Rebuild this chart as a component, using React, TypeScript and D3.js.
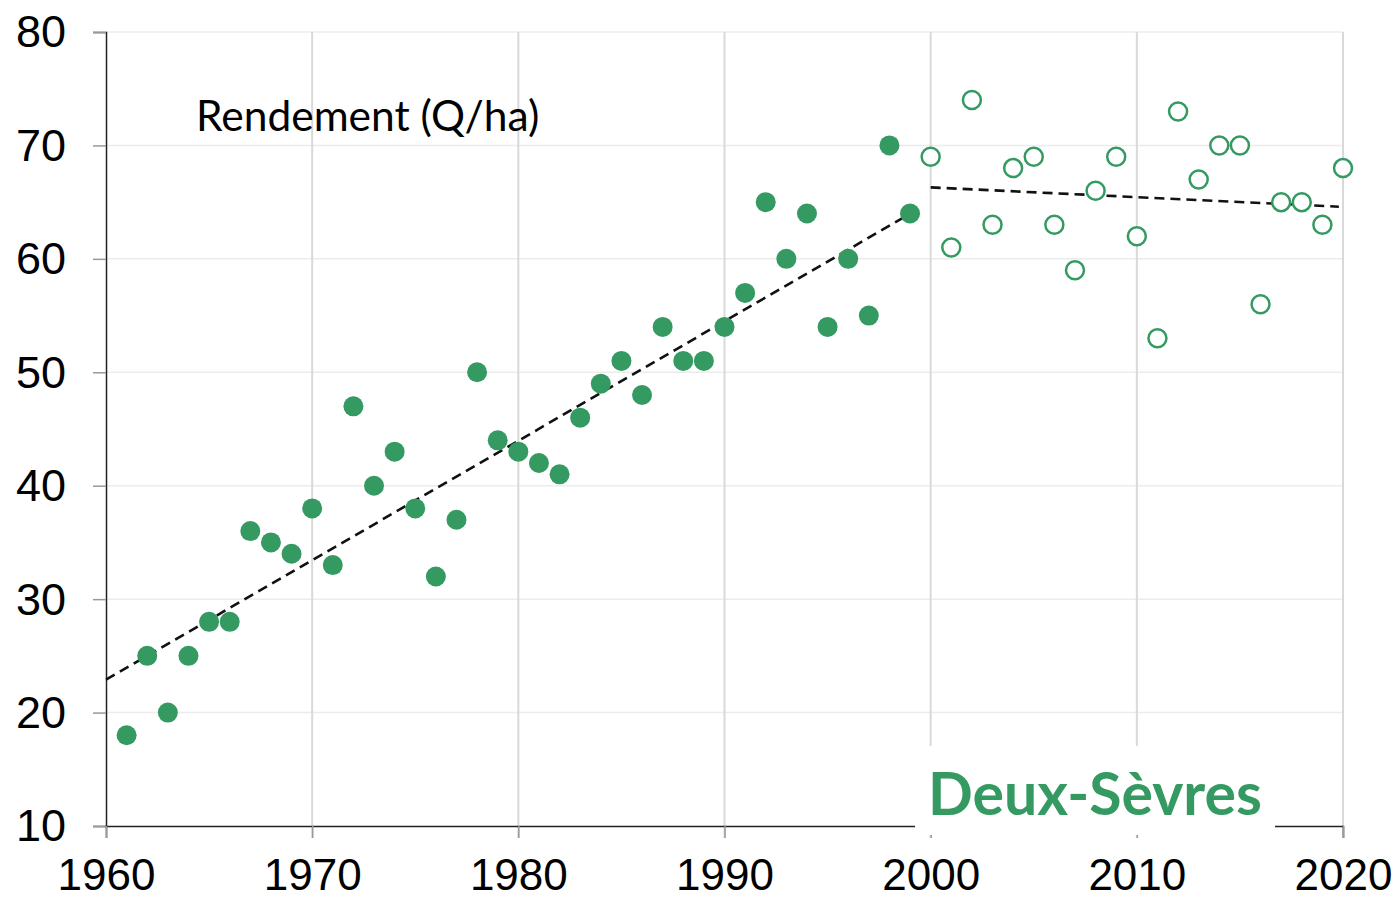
import * as d3 from "d3";
import { useEffect, useRef } from "react";

const W = 1399;
const H = 899;
const margin = { top: 32, right: 56, bottom: 73, left: 106 };

// rendement (Q/ha), 1961-1999 (points pleins)
const years1 = d3.range(1961, 2000);
const yield1 = [
	18, 25, 20, 25, 28, 28, 36, 35, 34, 38,
	33, 47, 40, 43, 38, 32, 37, 50, 44, 43,
	42, 41, 46, 49, 51, 48, 54, 51, 51, 54,
	57, 65, 60, 64, 54, 60, 55, 70, 64
];

// 2000-2020 (points creux)
const years2 = d3.range(2000, 2021);
const yield2 = [
	69, 61, 74, 63, 68, 69, 63, 59, 66, 69,
	62, 53, 73, 67, 70, 70, 56, 65, 65, 63, 68
];

// tendances (extrémités)
const trend1 = [[1960, 22.9], [1999.5, 64.5]];
const trend2 = [[2000, 66.3], [2019.8, 64.6]];

const xTicks = [1960, 1970, 1980, 1990, 2000, 2010, 2020];
const yTicks = [10, 20, 30, 40, 50, 60, 70, 80];

const green = "#349a62";

export default function App() {
	const ref = useRef(null);

	useEffect(() => {
		const svg = d3.select(ref.current);
		svg.selectAll("*").remove();

		const x = d3.scaleLinear().domain([1960, 2020]).range([margin.left, W - margin.right]);
		const y = d3.scaleLinear().domain([10, 80]).range([H - margin.bottom, margin.top]);

		// grille
		svg.append("g")
			.selectAll("line")
			.data(yTicks.slice(1))
			.join("line")
			.attr("x1", margin.left)
			.attr("x2", x(2020))
			.attr("y1", d => y(d))
			.attr("y2", d => y(d))
			.attr("stroke", "#ececec")
			.attr("stroke-width", 1.5);

		svg.append("g")
			.selectAll("line")
			.data(xTicks.slice(1))
			.join("line")
			.attr("x1", d => x(d))
			.attr("x2", d => x(d))
			.attr("y1", margin.top)
			.attr("y2", y(10) + 12)
			.attr("stroke", "#d9d9d9")
			.attr("stroke-width", 2);

		// axes
		const yAxis = d3.axisLeft(y).tickValues(yTicks).tickSize(13).tickPadding(27);
		const gy = svg.append("g").attr("transform", `translate(${margin.left},0)`).call(yAxis);
		gy.select(".domain").attr("stroke", "#222").attr("stroke-width", 1.5);
		gy.selectAll(".tick line").attr("stroke", "#999").attr("stroke-width", 1.5);
		gy.selectAll("text")
			.attr("font-family", "Liberation Sans, Arial, sans-serif")
			.attr("font-size", 45)
			.attr("fill", "#000")
			.attr("dy", "0.33em");

		const xAxis = d3.axisBottom(x).tickValues(xTicks).tickFormat(d3.format("d")).tickSize(12).tickPadding(21);
		const gx = svg.append("g").attr("transform", `translate(0,${y(10)})`).call(xAxis);
		gx.select(".domain").attr("stroke", "#222").attr("stroke-width", 1.5);
		gx.selectAll(".tick line").attr("stroke", "#999").attr("stroke-width", 1.5);
		gx.selectAll("text")
			.attr("font-family", "Liberation Sans, Arial, sans-serif")
			.attr("font-size", 44)
			.attr("fill", "#000");

		// tendances
		const line = d3.line().x(d => x(d[0])).y(d => y(d[1]));
		[trend1, trend2].forEach(t => {
			svg.append("path")
				.attr("d", line(t))
				.attr("fill", "none")
				.attr("stroke", "#111")
				.attr("stroke-width", 2.6)
				.attr("stroke-dasharray", "10,6");
		});

		// points
		svg.append("g")
			.selectAll("circle")
			.data(years1.map((yr, i) => [yr, yield1[i]]))
			.join("circle")
			.attr("cx", d => x(d[0]))
			.attr("cy", d => y(d[1]))
			.attr("r", 10)
			.attr("fill", green);

		svg.append("g")
			.selectAll("circle")
			.data(years2.map((yr, i) => [yr, yield2[i]]))
			.join("circle")
			.attr("cx", d => x(d[0]))
			.attr("cy", d => y(d[1]))
			.attr("r", 9)
			.attr("fill", "white")
			.attr("stroke", green)
			.attr("stroke-width", 2.5);

		// étiquette
		svg.append("rect")
			.attr("x", 915)
			.attr("y", 746)
			.attr("width", 360)
			.attr("height", 89)
			.attr("fill", "white");

		svg.append("text")
			.attr("x", 928)
			.attr("y", 815)
			.attr("font-family", "Lato, Open Sans, sans-serif")
			.attr("font-weight", "bold")
			.attr("font-size", 59)
			.attr("fill", green)
			.text("Deux-Sèvres");

		svg.append("text")
			.attr("x", 196)
			.attr("y", 131)
			.attr("font-family", "Lato, Open Sans, sans-serif")
			.attr("font-size", 42.5)
			.attr("fill", "#000")
			.text("Rendement (Q/ha)");
	}, []);

	return (
		<div style={{ position: "absolute", left: 0, top: 0 }}>
			<svg ref={ref} width={W} height={H} style={{ display: "block", background: "white" }} />
		</div>
	);
}
